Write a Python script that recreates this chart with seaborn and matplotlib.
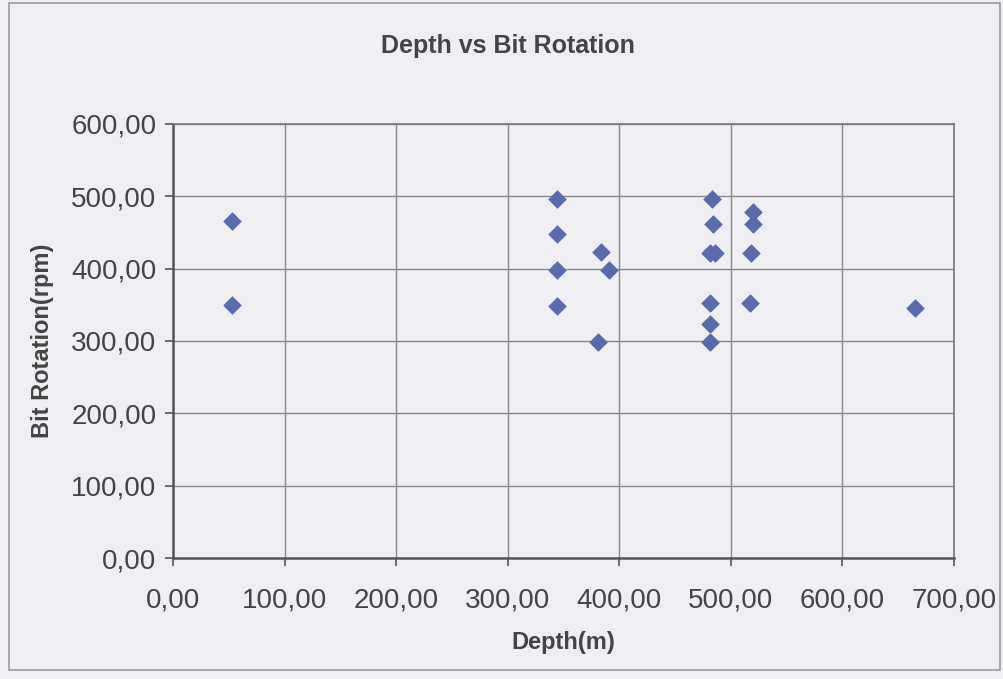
import matplotlib
matplotlib.use("Agg")
import matplotlib.pyplot as plt
import matplotlib.patches as mpatches
from matplotlib.ticker import FuncFormatter
import seaborn as sns
import pandas as pd

depth = [52.5, 52.5, 344.5, 344.5, 344.5, 344.5, 383.5, 390.5, 381.0,
         483.5, 484.0, 481.0, 485.5, 481.0, 481.0, 481.0,
         520.0, 520.0, 518.5, 517.5, 665.0]
rotation = [466, 350, 497, 448, 398, 349, 423, 398, 298,
            497, 462, 422, 422, 353, 323, 298,
            478, 462, 422, 353, 346]

x_ticks = [0, 100, 200, 300, 400, 500, 600, 700]
y_ticks = [0, 100, 200, 300, 400, 500, 600]
title = "Depth vs Bit Rotation"
x_label = "Depth(m)"
y_label = "Bit Rotation(rpm)"

df = pd.DataFrame({"depth": depth, "rotation": rotation})

sns.set_theme(style="white")
plt.rcParams["font.family"] = ["Liberation Sans", "DejaVu Sans"]

bg = "#eeeef3"
fig = plt.figure(figsize=(10.04, 6.79), dpi=100, facecolor=bg)
ax = fig.add_axes([173/1004, 1 - 558/679, (954 - 173)/1004, (558 - 124)/679])
ax.set_facecolor(bg)

sns.scatterplot(data=df, x="depth", y="rotation", ax=ax, marker="D",
                s=80, color="#5a6aab", edgecolor="#5a6aab", linewidth=0.5,
                zorder=3)

ax.set_xlim(0, 700)
ax.set_ylim(0, 600)
ax.set_xticks(x_ticks)
ax.set_yticks(y_ticks)
fmt = FuncFormatter(lambda v, p: f"{v:.2f}".replace(".", ","))
ax.xaxis.set_major_formatter(fmt)
ax.yaxis.set_major_formatter(fmt)
ax.grid(True, color="#8a8a8a", linewidth=1.0)
ax.set_axisbelow(True)

for side in ["top", "right"]:
    ax.spines[side].set_color("#777777")
    ax.spines[side].set_linewidth(1.2)
for side in ["left", "bottom"]:
    ax.spines[side].set_color("#555555")
    ax.spines[side].set_linewidth(1.8)

ax.tick_params(axis="both", direction="out", length=6, width=1.2,
               color="#555555", labelsize=20, labelcolor="#444444")
ax.tick_params(axis="x", pad=15)
ax.tick_params(axis="y", pad=6)
ax.xaxis.set_ticks_position("bottom")
ax.yaxis.set_ticks_position("left")

ax.set_xlabel(x_label, fontsize=17, fontweight="bold", color="#444444", labelpad=13)
ax.set_ylabel(y_label, fontsize=17, fontweight="bold", color="#444444", labelpad=12)

fig.text(508/1004, 1 - 46/679, title, ha="center", va="center",
         fontsize=18, fontweight="bold", color="#444444")

border = mpatches.Rectangle((9/1004, 9/679), (1000 - 9)/1004, (676 - 9)/679,
                            transform=fig.transFigure, fill=False,
                            edgecolor="#9a9a9a", linewidth=1.2)
fig.patches.append(border)

fig.savefig("out.png", dpi=100, facecolor=bg)
